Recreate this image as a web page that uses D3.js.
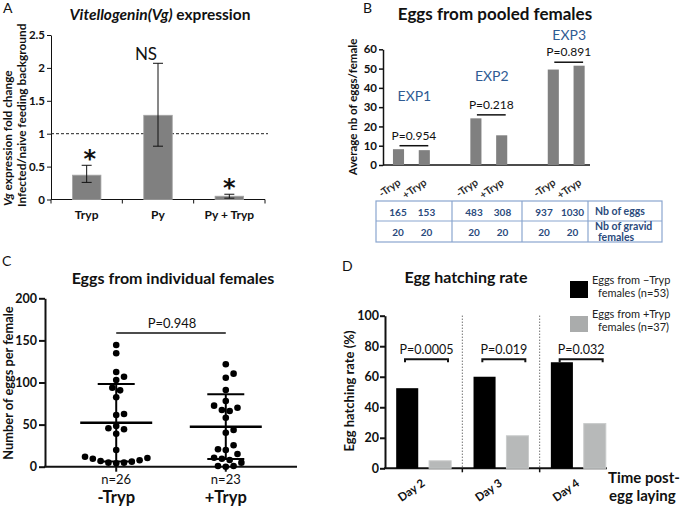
<!DOCTYPE html>
<html>
<head>
<meta charset="utf-8">
<script src="https://cdn.jsdelivr.net/npm/d3@7"></script>
<style>
  body { margin: 0; background: #fff; }
  svg { font-family: Lato, 'Open Sans', sans-serif; }
  .letter { font-size: 14px; fill: #111; }
  .title { font-size: 15.5px; font-weight: bold; text-anchor: middle; fill: #111; }
  .ytitle { font-weight: bold; fill: #111; }
  .cat { font-weight: bold; text-anchor: middle; fill: #111; }
  .pval { text-anchor: middle; fill: #111; }
  .exp { font-size: 14px; text-anchor: middle; fill: #2f5b93; }
  .tbl { font-size: 10px; font-weight: bold; fill: #2a4a7c; }
  .legend { font-size: 11px; fill: #222; }
</style>
</head>
<body>
<script>

// A: Vitellogenin expression
var vgGroups = ["Tryp", "Py", "Py + Tryp"]
var vgFold = [0.37, 1.28, 0.05]
var vgErrLow = [0.26, 0.81, 0.02]
var vgErrHigh = [0.52, 2.07, 0.08]
var vgMarks = ["*", "NS", "*"]
var vgTicks = [0, 0.5, 1, 1.5, 2, 2.5]

// B: eggs from pooled females
var experiments = ["EXP1", "EXP2", "EXP3"]
var conditions = ["-Tryp", "+Tryp"]
var avgEggsNeg = [8.2, 24.2, 49.5]
var avgEggsPos = [7.7, 15.4, 51.5]
var pooledP = ["P=0.954", "P=0.218", "P=0.891"]
var nbEggsNeg = [165, 483, 937]
var nbEggsPos = [153, 308, 1030]
var nbGravidNeg = [20, 20, 20]
var nbGravidPos = [20, 20, 20]
var pooledTicks = [0, 10, 20, 30, 40, 50, 60]

// C: eggs from individual females
var eggGroups = ["-Tryp", "+Tryp"]
var eggsNeg = [144.5, 134.7, 106.9, 112.5, 103, 93.8, 90.7, 82.4, 62.6, 61.4, 45.6, 39.2, 44.4, 48.3,
  19.8, 11.9, 9.5, 6.8, 4.8, 4, 4.8, 6, 7.6, 10.3]
var eggsPos = [121.6, 105.7, 110.5, 91.1, 70.1, 72.5, 66.2, 78, 67.3, 58.2, 40.4, 43.6, 25.4, 19.8,
  15.1, 20.7, 9.5, 4.8, 8, 10.7, 0.8, 0, 0.8]
var eggsMean = [52.3, 47.5]
var eggsSd = [46, 38.5]
var eggsN = ["n=26", "n=23"]
var eggTicks = [0, 50, 100, 150, 200]

// D: egg hatching rate
var days = ["Day 2", "Day 3", "Day 4"]
var hatchNeg = [52.5, 60, 69.5]
var hatchPos = [4.9, 21.3, 29.3]
var hatchP = ["P=0.0005", "P=0.019", "P=0.032"]
var hatchTicks = [0, 20, 40, 60, 80, 100]

var svg = d3.select("body").append("svg")
  .attr("width", 681)
  .attr("height", 508)

function styleAxis(g, size, width) {
  g.attr("font-family", null).attr("font-size", null)
  g.selectAll("text").attr("font-size", size).attr("font-weight", "bold").attr("fill", "#111")
  g.selectAll("path, line").attr("stroke", "#111").attr("stroke-width", width)
}

// ---------- panel A ----------
var gA = svg.append("g")
var xA = d3.scaleBand().domain(vgGroups).range([51, 265]).paddingInner(0.6).paddingOuter(0.3)
var yA = d3.scaleLinear().domain([0, 2.5]).range([199.5, 35])
var cA = function(d) { return xA(d) + xA.bandwidth() / 2 }

gA.append("text").attr("class", "letter").attr("x", 3).attr("y", 13).text("A")
var tA = gA.append("text").attr("class", "title").attr("x", 160).attr("y", 20).style("font-size", "15.5px")
tA.append("tspan").style("font-style", "italic").text("Vitellogenin(Vg)")
tA.append("tspan").text(" expression")

gA.append("g").attr("transform", "translate(51,0)")
  .call(d3.axisLeft(yA).tickValues(vgTicks).tickSize(4).tickSizeOuter(0).tickPadding(2).tickFormat(d3.format("")))
  .call(styleAxis, 11.5, 1)

gA.append("line").attr("x1", 51).attr("x2", 265).attr("y1", yA(0)).attr("y2", yA(0))
  .attr("stroke", "#111")
d3.range(vgGroups.length + 1).forEach(function(i) {
  var x = 51 + i * xA.step()
  gA.append("line").attr("x1", x).attr("x2", x).attr("y1", yA(0)).attr("y2", yA(0) + 4).attr("stroke", "#111")
})

gA.append("line").attr("x1", 51).attr("x2", 268).attr("y1", yA(1)).attr("y2", yA(1))
  .attr("stroke", "#222").attr("stroke-dasharray", "3,2")

gA.selectAll(".barA").data(vgGroups).enter().append("rect")
  .attr("x", function(d) { return xA(d) })
  .attr("y", function(d, i) { return yA(vgFold[i]) })
  .attr("width", xA.bandwidth())
  .attr("height", function(d, i) { return yA(0) - yA(vgFold[i]) })
  .attr("fill", "#808080").attr("stroke", "#a6a6a6").attr("stroke-width", 0.8)

vgGroups.forEach(function(d, i) {
  var cx = cA(d)
  gA.append("line").attr("x1", cx).attr("x2", cx).attr("y1", yA(vgErrLow[i])).attr("y2", yA(vgErrHigh[i])).attr("stroke", "#111")
  ;[vgErrLow[i], vgErrHigh[i]].forEach(function(v) {
    gA.append("line").attr("x1", cx - 5).attr("x2", cx + 5).attr("y1", yA(v)).attr("y2", yA(v)).attr("stroke", "#111")
  })
  gA.append("text").attr("class", "cat").attr("x", cx).attr("y", 219).style("font-size", "12px").text(d)
})

var markDx = [3, -12, 0]
vgGroups.forEach(function(d, i) {
  var star = vgMarks[i] === "*"
  gA.append("text")
    .attr("x", cA(d) + markDx[i])
    .attr("y", yA(vgErrHigh[i]) - (star ? -2 : 3))
    .attr("text-anchor", "middle")
    .style("font-family", star ? "DejaVu Sans" : null)
    .style("font-weight", star ? "bold" : null)
    .style("font-size", star ? "24px" : "17px")
    .attr("fill", "#111")
    .text(vgMarks[i])
})

var ytA = gA.append("text").attr("class", "ytitle").style("font-size", "11.8px")
  .attr("transform", "translate(12,206) rotate(-90)")
ytA.append("tspan").style("font-style", "italic").text("Vg")
ytA.append("tspan").text(" expression fold change")
gA.append("text").attr("class", "ytitle").style("font-size", "11.8px")
  .attr("transform", "translate(26,207) rotate(-90)")
  .text("Infected/naive feeding background")

// ---------- panel B ----------
var gB = svg.append("g")
var xB = d3.scaleBand().domain(d3.range(8)).range([385.6, 592]).paddingInner(0.57).paddingOuter(0.285)
var yB = d3.scaleLinear().domain([0, 60]).range([165, 49.3])
var slot = function(e, c) { return xB(e * 3 + c) + xB.bandwidth() / 2 }

gB.append("text").attr("class", "letter").attr("x", 363).attr("y", 13).text("B")
gB.append("text").attr("class", "title").attr("x", 495).attr("y", 20).style("font-size", "17px")
  .text("Eggs from pooled females")

gB.append("g").attr("transform", "translate(383,0)")
  .call(d3.axisLeft(yB).tickValues(pooledTicks).tickSize(4).tickSizeOuter(0).tickPadding(2))
  .call(styleAxis, 11.5, 1.5)
gB.append("line").attr("x1", 383).attr("x2", 590).attr("y1", yB(0)).attr("y2", yB(0))
  .attr("stroke", "#111").attr("stroke-width", 1.5)

experiments.forEach(function(e, i) {
  var vals = [avgEggsNeg[i], avgEggsPos[i]]
  conditions.forEach(function(c, j) {
    gB.append("rect")
      .attr("x", xB(i * 3 + j)).attr("y", yB(vals[j]))
      .attr("width", xB.bandwidth()).attr("height", yB(0) - yB(vals[j]))
      .attr("fill", "#808080")
    gB.append("text").attr("text-anchor", "end").style("font-size", "10.5px").style("font-weight", "bold")
      .attr("fill", "#2b2b2b")
      .attr("transform", "translate(" + (slot(i, j) + 3) + ",184) rotate(-35)")
      .text(c)
  })
  var top = yB(d3.max(vals) + 1.8)
  var x0 = slot(i, 0) + 1, x1 = slot(i, 1) + 4
  gB.append("line").attr("x1", x0).attr("x2", x1).attr("y1", top).attr("y2", top)
    .attr("stroke", "#111").attr("stroke-width", 1.5)
  gB.append("text").attr("class", "pval").style("font-size", "12px")
    .attr("x", (x0 + x1) / 2).attr("y", top - 6).text(pooledP[i])
})

var expLift = [50, 39, 27]
experiments.forEach(function(e, i) {
  var top = yB(d3.max([avgEggsNeg[i], avgEggsPos[i]]) + 1.8)
  gB.append("text").attr("class", "exp")
    .attr("x", (slot(i, 0) + slot(i, 1)) / 2 + 3).attr("y", top - expLift[i] + 5).text(e)
})

gB.append("text").attr("class", "ytitle").style("font-size", "11.5px").attr("text-anchor", "middle")
  .attr("transform", "translate(357,107) rotate(-90)")
  .text("Average nb of eggs/female")

// table of counts
var colX = [376, 452, 522, 588, 662]
var rowY = [201, 221, 242]
var tbl = gB.append("g")
tbl.append("rect").attr("x", colX[0]).attr("y", rowY[0])
  .attr("width", colX[4] - colX[0]).attr("height", rowY[2] - rowY[0])
  .attr("fill", "none").attr("stroke", "#8aa6cf").attr("stroke-width", 1.2)
tbl.append("line").attr("x1", colX[0]).attr("x2", colX[4]).attr("y1", rowY[1]).attr("y2", rowY[1])
  .attr("stroke", "#8aa6cf").attr("stroke-width", 1.2)
colX.slice(1, 4).forEach(function(x) {
  tbl.append("line").attr("x1", x).attr("x2", x).attr("y1", rowY[0]).attr("y2", rowY[2])
    .attr("stroke", "#8aa6cf").attr("stroke-width", 1.2)
})
experiments.forEach(function(e, i) {
  var rows = [[nbEggsNeg[i], nbEggsPos[i]], [nbGravidNeg[i], nbGravidPos[i]]]
  rows.forEach(function(r, k) {
    r.forEach(function(v, j) {
      tbl.append("text").attr("class", "tbl").attr("text-anchor", "middle")
        .attr("x", colX[i] + 22 + j * 28.5).attr("y", rowY[k] + 15).text(v)
    })
  })
})
tbl.append("text").attr("class", "tbl").attr("x", 595).attr("y", 215).style("font-size", "10.5px").text("Nb of eggs")
tbl.append("text").attr("class", "tbl").attr("x", 595).attr("y", 230).style("font-size", "10.5px").text("Nb of gravid")
tbl.append("text").attr("class", "tbl").attr("x", 598).attr("y", 241).style("font-size", "10.5px").text("females")

// ---------- panel C ----------
var gC = svg.append("g")
var xC = d3.scalePoint().domain(eggGroups).range([45, 297]).padding(0.65)
var yC = d3.scaleLinear().domain([0, 200]).range([466.7, 298.3])

gC.append("text").attr("class", "letter").attr("x", 2).attr("y", 266).text("C")
gC.append("text").attr("class", "title").attr("x", 173).attr("y", 284).style("font-size", "16px")
  .text("Eggs from individual females")

gC.append("g").attr("transform", "translate(45,0)")
  .call(d3.axisLeft(yC).tickValues(eggTicks).tickSize(6).tickSizeOuter(0).tickPadding(2))
  .call(styleAxis, 12.5, 2)
gC.append("line").attr("x1", 44).attr("x2", 297).attr("y1", yC(0)).attr("y2", yC(0))
  .attr("stroke", "#111").attr("stroke-width", 2)

function swarm(vals, cx) {
  var gap = 7.8, pts = []
  vals.slice().sort(d3.ascending).forEach(function(v) {
    var py = yC(v)
    for (var k = 0; k < 60; k++) {
      var dx = (k % 2 ? 1 : -1) * Math.ceil(k / 2) * gap / 2
      var ok = pts.every(function(p) { return Math.hypot(p.x - cx - dx, p.y - py) >= gap - 0.6 })
      if (ok) { pts.push({ x: cx + dx, y: py }); break }
    }
  })
  return pts
}

;[eggsNeg, eggsPos].forEach(function(vals, i) {
  var cx = xC(eggGroups[i])
  gC.append("line").attr("x1", cx).attr("x2", cx).attr("y1", yC(0)).attr("y2", yC(0) + 5)
    .attr("stroke", "#111").attr("stroke-width", 2)
  gC.selectAll(".dot" + i).data(swarm(vals, cx)).enter().append("circle")
    .attr("cx", function(d) { return d.x }).attr("cy", function(d) { return d.y })
    .attr("r", 3.3).attr("fill", "#000")
  var lo = eggsMean[i] - eggsSd[i], hi = eggsMean[i] + eggsSd[i]
  gC.append("line").attr("x1", cx).attr("x2", cx).attr("y1", yC(lo)).attr("y2", yC(hi))
    .attr("stroke", "#000").attr("stroke-width", 2)
  ;[lo, hi].forEach(function(v) {
    gC.append("line").attr("x1", cx - 18.5).attr("x2", cx + 18.5).attr("y1", yC(v)).attr("y2", yC(v))
      .attr("stroke", "#000").attr("stroke-width", 2)
  })
  gC.append("line").attr("x1", cx - 36).attr("x2", cx + 36).attr("y1", yC(eggsMean[i])).attr("y2", yC(eggsMean[i]))
    .attr("stroke", "#000").attr("stroke-width", 2.5)
  gC.append("text").attr("class", "pval").style("font-size", "13px").attr("x", cx).attr("y", 484).text(eggsN[i])
  gC.append("text").attr("class", "cat").style("font-size", "16.5px").attr("x", cx).attr("y", 503).text(eggGroups[i])
})

gC.append("line").attr("x1", xC(eggGroups[0])).attr("x2", xC(eggGroups[1])).attr("y1", 333).attr("y2", 333)
  .attr("stroke", "#111").attr("stroke-width", 1.5)
gC.append("text").attr("class", "pval").style("font-size", "13px").attr("x", 172).attr("y", 328).text("P=0.948")

gC.append("text").attr("class", "ytitle").style("font-size", "12.8px").attr("text-anchor", "middle")
  .attr("transform", "translate(13,383) rotate(-90)")
  .text("Number of eggs per female")

// ---------- panel D ----------
var gD = svg.append("g")
var xD = d3.scaleBand().domain(days).range([385, 617])
var xDi = d3.scaleBand().domain(["neg", "pos"]).range([0, xD.bandwidth()]).paddingInner(0.33).paddingOuter(0.34)
var yD = d3.scaleLinear().domain([0, 100]).range([468.3, 315.7])

gD.append("text").attr("class", "letter").attr("x", 342).attr("y", 271).text("D")
gD.append("text").attr("class", "title").attr("x", 466).attr("y", 283).style("font-size", "16px")
  .text("Egg hatching rate")

gD.append("g").attr("transform", "translate(385,0)")
  .call(d3.axisLeft(yD).tickValues(hatchTicks).tickSize(5).tickSizeOuter(0).tickPadding(1))
  .call(styleAxis, 12.5, 2)
gD.append("line").attr("x1", 384).attr("x2", 607).attr("y1", yD(0)).attr("y2", yD(0))
  .attr("stroke", "#111").attr("stroke-width", 2)

days.forEach(function(d, i) {
  var x0 = xD(d)
  if (i > 0) {
    gD.append("line").attr("x1", x0).attr("x2", x0).attr("y1", yD(100)).attr("y2", yD(0))
      .attr("stroke", "#333").attr("stroke-dasharray", "1,2")
    gD.append("line").attr("x1", x0).attr("x2", x0).attr("y1", yD(0)).attr("y2", yD(0) + 4)
      .attr("stroke", "#111").attr("stroke-width", 1.5)
  }
  gD.append("rect").attr("x", x0 + xDi("neg")).attr("y", yD(hatchNeg[i]))
    .attr("width", xDi.bandwidth()).attr("height", yD(0) - yD(hatchNeg[i]))
    .attr("fill", "#000")
  gD.append("rect").attr("x", x0 + xDi("pos")).attr("y", yD(hatchPos[i]))
    .attr("width", xDi.bandwidth()).attr("height", yD(0) - yD(hatchPos[i]))
    .attr("fill", "#b7b9b9").attr("stroke", "#c9cbcb").attr("stroke-width", 1)
  var by = yD(71.4), bx0 = x0 + 20, bx1 = x0 + 63
  gD.append("path").attr("d", "M" + bx0 + "," + (by + 3) + "V" + by + "H" + bx1 + "V" + (by + 3))
    .attr("fill", "none").attr("stroke", "#111").attr("stroke-width", 2)
  gD.append("text").attr("class", "pval").style("font-size", "12.5px")
    .attr("x", (bx0 + bx1) / 2).attr("y", by - 5).text(hatchP[i])
  gD.append("text").attr("text-anchor", "end").style("font-size", "11.5px").style("font-weight", "bold")
    .attr("fill", "#111")
    .attr("transform", "translate(" + (x0 + xD.bandwidth() / 2 + 2) + ",485) rotate(-35)")
    .text(d)
})

gD.append("text").attr("class", "ytitle").style("font-size", "13px").attr("text-anchor", "middle")
  .attr("transform", "translate(354,391) rotate(-90)")
  .text("Egg hatching rate (%)")

gD.append("text").attr("class", "ytitle").style("font-size", "15px").attr("x", 608).attr("y", 483).text("Time post-")
gD.append("text").attr("class", "ytitle").style("font-size", "15px").attr("x", 609).attr("y", 501).text("egg laying")

// legend
gD.append("rect").attr("x", 570).attr("y", 281).attr("width", 18).attr("height", 17).attr("fill", "#000")
gD.append("rect").attr("x", 570).attr("y", 316).attr("width", 18).attr("height", 16).attr("fill", "#aaacac")
gD.append("text").attr("class", "legend").attr("x", 592).attr("y", 284).text("Eggs from \u2212Tryp")
gD.append("text").attr("class", "legend").attr("x", 598).attr("y", 297).text("females (n=53)")
gD.append("text").attr("class", "legend").attr("x", 592).attr("y", 318).text("Eggs from +Tryp")
gD.append("text").attr("class", "legend").attr("x", 598).attr("y", 331).text("females (n=37)")
</script>
</body>
</html>
